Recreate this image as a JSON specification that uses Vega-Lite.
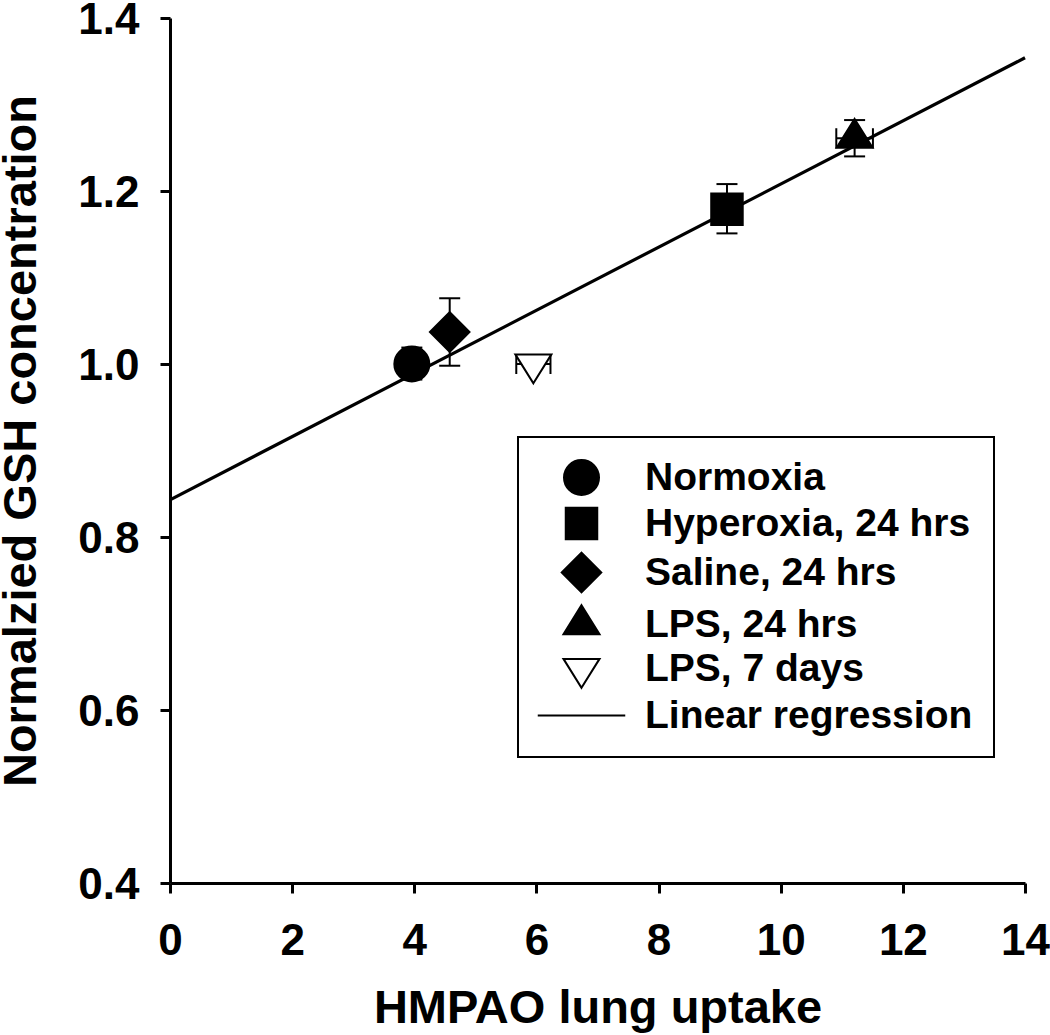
{
  "$schema": "https://vega.github.io/schema/vega-lite/v6.json",
  "width": 855,
  "height": 865,
  "autosize": {"type": "none"},
  "padding": {"left": 170, "top": 18, "right": 25, "bottom": 152},
  "background": "white",
  "config": {
    "font": "Liberation Sans",
    "view": {"stroke": null},
    "axis": {
      "domainColor": "black", "domainWidth": 3,
      "tickColor": "black", "tickWidth": 3, "tickSize": 10,
      "grid": false,
      "labelFont": "Liberation Sans", "labelFontWeight": "bold", "labelFontSize": 44, "labelColor": "black",
      "labelOverlap": false, "labelFlush": false,
      "titleFont": "Liberation Sans", "titleFontWeight": "bold", "titleFontSize": 47, "titleColor": "black"
    }
  },
  "datasets": {
    "points": [
      {"group": "Normoxia", "x": 3.96, "y": 1.0, "ylo": 0.982, "yhi": 1.019},
      {"group": "Hyperoxia, 24 hrs", "x": 9.12, "y": 1.179, "ylo": 1.151, "yhi": 1.208},
      {"group": "Saline, 24 hrs", "x": 4.58, "y": 1.037, "ylo": 0.998, "yhi": 1.076},
      {"group": "LPS, 24 hrs", "x": 11.21, "y": 1.261, "ylo": 1.24, "yhi": 1.282, "xlo": 10.91, "xhi": 11.51},
      {"group": "LPS, 7 days", "x": 5.95, "y": 1.0, "xlo": 5.67, "xhi": 6.23}
    ],
    "reg": [
      {"x": 0, "y": 0.843},
      {"x": 14, "y": 1.354}
    ]
  },
  "layer": [
    {
      "data": {"name": "reg"},
      "mark": {"type": "line", "color": "black", "strokeWidth": 3.2},
      "encoding": {
        "x": {"field": "x", "type": "quantitative", "title": "HMPAO lung uptake",
          "scale": {"domain": [0, 14], "nice": false, "zero": false},
          "axis": {"values": [0, 2, 4, 6, 8, 10, 12, 14], "format": "d", "labelPadding": 26,
            "titleY": 139, "titleBaseline": "alphabetic"}},
        "y": {"field": "y", "type": "quantitative", "title": "Normalzied GSH concentration",
          "scale": {"domain": [0.4, 1.4], "nice": false, "zero": false},
          "axis": {"values": [0.4, 0.6, 0.8, 1.0, 1.2, 1.4], "format": ".1f", "labelPadding": 21, "labelOffset": 2,
            "titleX": -135, "titleY": 422.5, "titleAngle": 270, "titleBaseline": "alphabetic", "titleAlign": "center"}}
      }
    },
    {
      "data": {"name": "points"},
      "transform": [{"filter": "isValid(datum.ylo)"}],
      "mark": {"type": "rule", "color": "black", "strokeWidth": 2},
      "encoding": {
        "x": {"field": "x", "type": "quantitative", "title": "HMPAO lung uptake", "scale": {"domain": [0, 14], "nice": false, "zero": false}},
        "y": {"field": "ylo", "type": "quantitative", "title": "Normalzied GSH concentration", "scale": {"domain": [0.4, 1.4], "nice": false, "zero": false}},
        "y2": {"field": "yhi"}
      }
    },
    {
      "data": {"name": "points"},
      "transform": [{"filter": "isValid(datum.ylo)"}],
      "mark": {"type": "tick", "orient": "horizontal", "color": "black", "size": 21, "thickness": 2, "opacity": 1},
      "encoding": {
        "x": {"field": "x", "type": "quantitative", "title": "HMPAO lung uptake", "scale": {"domain": [0, 14], "nice": false, "zero": false}},
        "y": {"field": "ylo", "type": "quantitative", "title": "Normalzied GSH concentration", "scale": {"domain": [0.4, 1.4], "nice": false, "zero": false}}
      }
    },
    {
      "data": {"name": "points"},
      "transform": [{"filter": "isValid(datum.yhi)"}],
      "mark": {"type": "tick", "orient": "horizontal", "color": "black", "size": 21, "thickness": 2, "opacity": 1},
      "encoding": {
        "x": {"field": "x", "type": "quantitative", "title": "HMPAO lung uptake", "scale": {"domain": [0, 14], "nice": false, "zero": false}},
        "y": {"field": "yhi", "type": "quantitative", "title": "Normalzied GSH concentration", "scale": {"domain": [0.4, 1.4], "nice": false, "zero": false}}
      }
    },
    {
      "data": {"name": "points"},
      "transform": [{"filter": "isValid(datum.xlo)"}],
      "mark": {"type": "rule", "color": "black", "strokeWidth": 2},
      "encoding": {
        "x": {"field": "xlo", "type": "quantitative", "title": "HMPAO lung uptake", "scale": {"domain": [0, 14], "nice": false, "zero": false}},
        "x2": {"field": "xhi"},
        "y": {"field": "y", "type": "quantitative", "title": "Normalzied GSH concentration", "scale": {"domain": [0.4, 1.4], "nice": false, "zero": false}}
      }
    },
    {
      "data": {"name": "points"},
      "transform": [{"filter": "isValid(datum.xlo)"}],
      "mark": {"type": "tick", "orient": "vertical", "color": "black", "size": 20, "thickness": 2, "opacity": 1},
      "encoding": {
        "x": {"field": "xlo", "type": "quantitative", "title": "HMPAO lung uptake", "scale": {"domain": [0, 14], "nice": false, "zero": false}},
        "y": {"field": "y", "type": "quantitative", "title": "Normalzied GSH concentration", "scale": {"domain": [0.4, 1.4], "nice": false, "zero": false}}
      }
    },
    {
      "data": {"name": "points"},
      "transform": [{"filter": "isValid(datum.xhi)"}],
      "mark": {"type": "tick", "orient": "vertical", "color": "black", "size": 20, "thickness": 2, "opacity": 1},
      "encoding": {
        "x": {"field": "xhi", "type": "quantitative", "title": "HMPAO lung uptake", "scale": {"domain": [0, 14], "nice": false, "zero": false}},
        "y": {"field": "y", "type": "quantitative", "title": "Normalzied GSH concentration", "scale": {"domain": [0.4, 1.4], "nice": false, "zero": false}}
      }
    },
    {
      "data": {"name": "points"},
      "mark": {"type": "point", "filled": true, "stroke": "black", "strokeWidth": 2, "opacity": 1, "size": 1225},
      "encoding": {
        "x": {"field": "x", "type": "quantitative", "title": "HMPAO lung uptake", "scale": {"domain": [0, 14], "nice": false, "zero": false}},
        "y": {"field": "y", "type": "quantitative", "title": "Normalzied GSH concentration", "scale": {"domain": [0.4, 1.4], "nice": false, "zero": false}},
        "shape": {"field": "group", "type": "nominal",
          "scale": {
            "domain": ["Normoxia", "Hyperoxia, 24 hrs", "Saline, 24 hrs", "LPS, 24 hrs", "LPS, 7 days", "Linear regression"],
            "range": ["circle", "M-0.9,-0.9H0.9V0.9H-0.9Z", "M-1.13,0L0,-1.13L1.13,0L0,1.13Z", "M0,-1.1L1.03,0.55L-1.03,0.55Z", "M0,1.1L1.03,-0.55L-1.03,-0.55Z", "M-2.5,0H2.5"]
          },
          "legend": {
            "orient": "none", "legendX": 348, "legendY": 419, "title": null, "direction": "vertical",
            "padding": 21, "strokeColor": "black",
            "labelFont": "Liberation Sans", "labelFontWeight": "bold", "labelFontSize": 39, "labelColor": "black", "labelLimit": 600,
            "symbolSize": 1225, "symbolStrokeWidth": 2, "symbolStrokeColor": "black", "symbolOpacity": 1,
            "symbolOffset": 23, "labelOffset": 44, "rowPadding": 4,
            "encode": {"legend": {"update": {"strokeWidth": {"value": 2}}}}
          }
        },
        "fill": {"field": "group", "type": "nominal",
          "scale": {
            "domain": ["Normoxia", "Hyperoxia, 24 hrs", "Saline, 24 hrs", "LPS, 24 hrs", "LPS, 7 days", "Linear regression"],
            "range": ["black", "black", "black", "black", "white", "black"]
          },
          "legend": {
            "orient": "none", "legendX": 348, "legendY": 419, "title": null, "direction": "vertical",
            "padding": 21, "strokeColor": "black",
            "labelFont": "Liberation Sans", "labelFontWeight": "bold", "labelFontSize": 39, "labelColor": "black", "labelLimit": 600,
            "symbolSize": 1225, "symbolStrokeWidth": 2, "symbolStrokeColor": "black", "symbolOpacity": 1,
            "symbolOffset": 23, "labelOffset": 44, "rowPadding": 4,
            "encode": {"legend": {"update": {"strokeWidth": {"value": 2}}}}
          }
        }
      }
    }
  ]
}
